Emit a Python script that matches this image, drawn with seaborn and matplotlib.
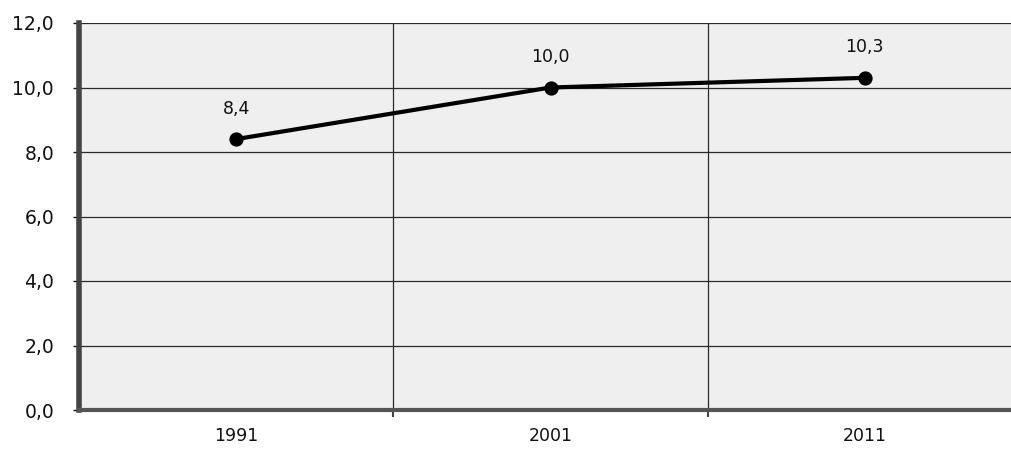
import matplotlib
matplotlib.use("Agg")
import matplotlib.pyplot as plt
import seaborn as sns
import pandas as pd
from matplotlib.ticker import FuncFormatter, FixedLocator

years = ["1991", "2001", "2011"]
values = [8.4, 10.0, 10.3]
y_ticks = [0, 2, 4, 6, 8, 10, 12]

sns.set_theme(style="white")
plt.rcParams['font.family'] = ['DejaVu Sans']

df = pd.DataFrame({"year": years, "value": values})

fig = plt.figure(figsize=(10.11, 4.51), dpi=100)
ax = fig.add_axes([79/1011, 41/451, 1 - 79/1011, (410-23)/451])
ax.set_facecolor("#efefef")

sns.pointplot(data=df, x="year", y="value", color="black", ax=ax,
              markers="o", markersize=8, linewidth=3, zorder=5)

ax.set_ylim(0, 12)
ax.set_xlim(-0.5, 2.465)
ax.yaxis.set_major_locator(FixedLocator(y_ticks))
ax.yaxis.set_major_formatter(FuncFormatter(lambda v, p: f"{v:.1f}".replace(".", ",")))
ax.set_xlabel("")
ax.set_ylabel("")

for v in y_ticks[1:]:
    ax.axhline(v, color="#2a2a2a", linewidth=0.9, zorder=1)
for xv in [0.5, 1.5]:
    ax.axvline(xv, color="#2a2a2a", linewidth=0.9, zorder=1)
ax.set_xticks([0.5, 1.5], minor=True)

for i, (y, v) in enumerate(zip(years, values)):
    ax.annotate(f"{v:.1f}".replace(".", ","), (i, v), xytext=(0, 22),
                textcoords="offset points", ha="center", va="center",
                fontsize=12.5, color="#111111")

for s in ["top", "right"]:
    ax.spines[s].set_visible(False)
ax.spines["left"].set_color("#444444")
ax.spines["left"].set_linewidth(4)
ax.spines["bottom"].set_color("#555555")
ax.spines["bottom"].set_linewidth(3)

ax.tick_params(axis="y", which="major", length=4, width=1, direction="out",
               labelsize=13.5, colors="#111111", pad=14, left=True)
ax.tick_params(axis="x", which="major", length=0, labelsize=12.5, pad=12, labelcolor="#111111")
ax.tick_params(axis="x", which="minor", length=5, width=1.5, direction="out", bottom=True, color="#444444")

fig.savefig("out.png", dpi=100)
